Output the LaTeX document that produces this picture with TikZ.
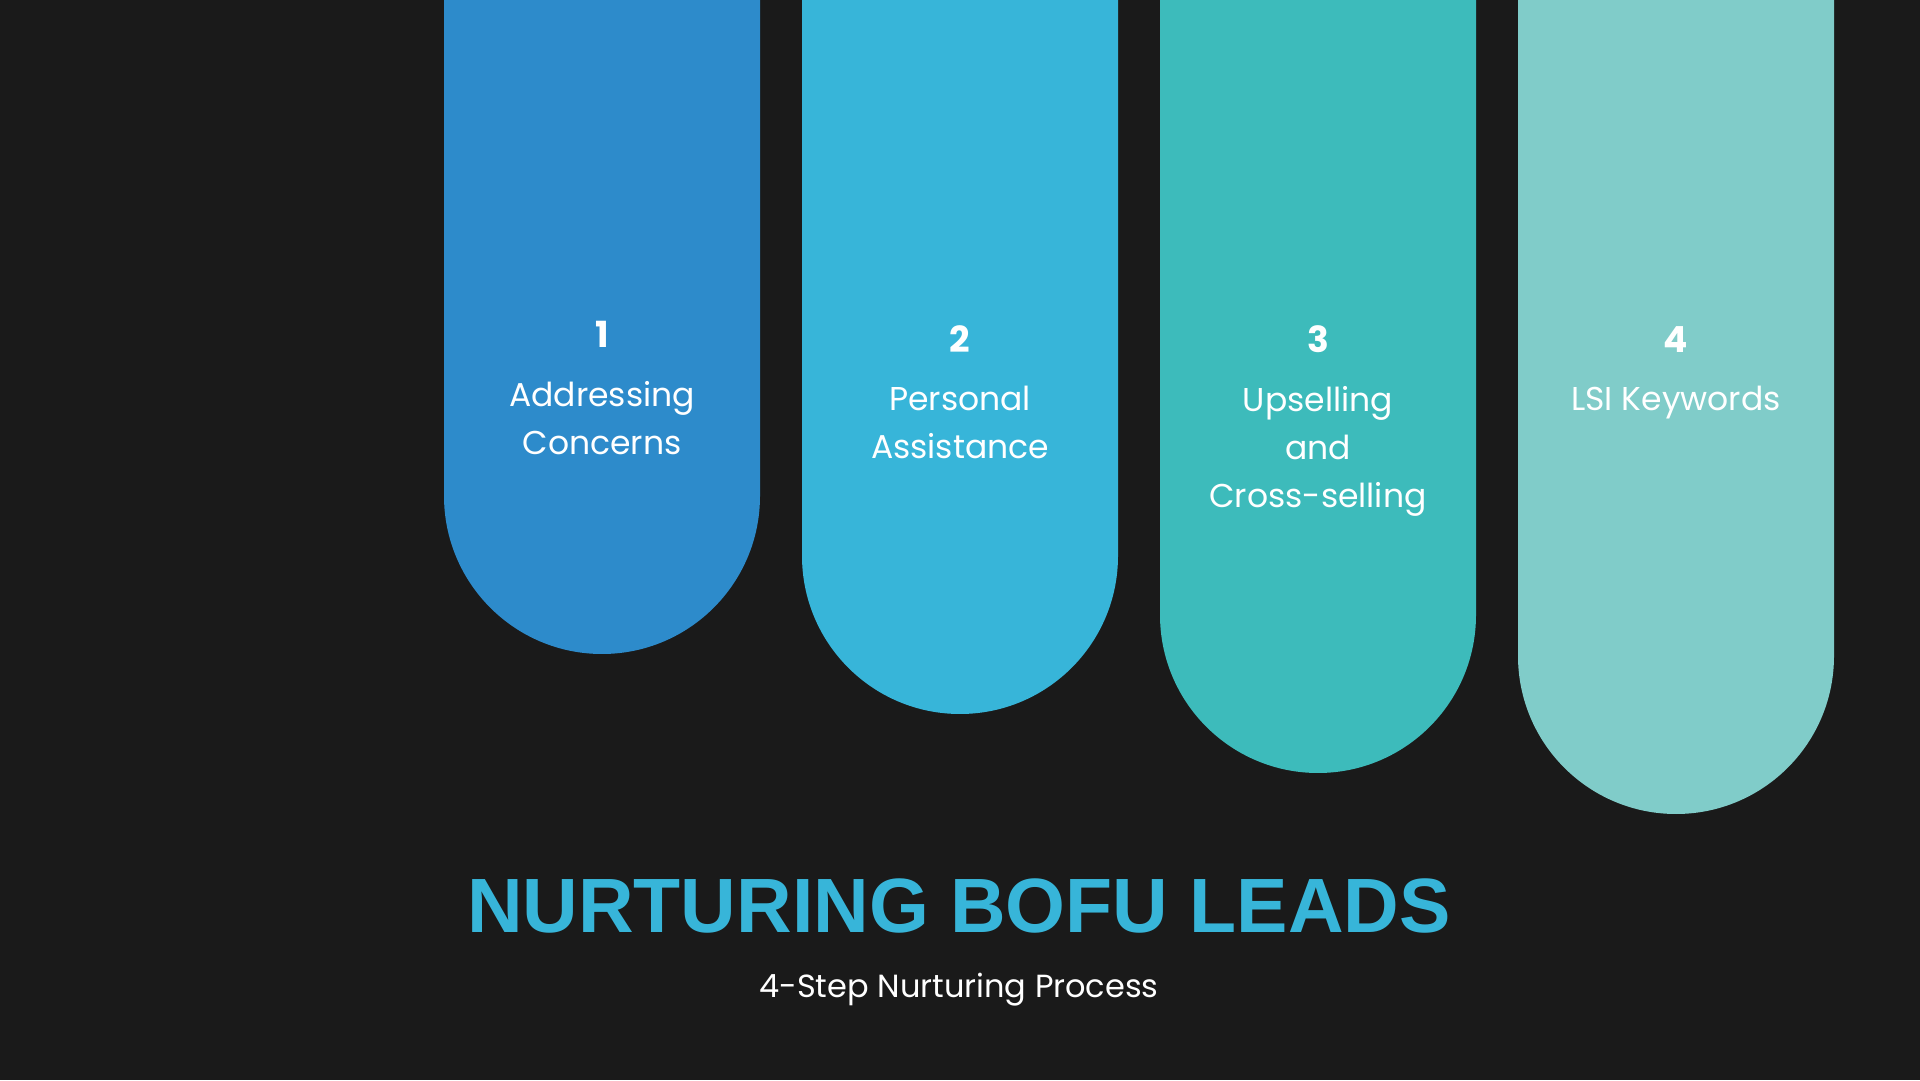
\documentclass[tikz,border=0pt]{standalone}
\usepackage{fontspec}
\setmainfont{Poppins}
\newfontfamily\titlefont{Liberation Sans}
\usetikzlibrary{positioning}
\definecolor{bgdark}{HTML}{1A1A1A}
\definecolor{stepone}{HTML}{2D8BCB}
\definecolor{steptwo}{HTML}{37B5D9}
\definecolor{stepthree}{HTML}{3DBBBB}
\definecolor{stepfour}{HTML}{80CCC9}

\tikzset{
  stepnum/.style={text=white,inner sep=0pt,anchor=base,
                  font=\fontsize{36}{40}\selectfont\bfseries},
  steptext/.style={text=white,inner sep=0pt,anchor=north,align=center,
                   font=\fontsize{33}{48}\selectfont},
}

\begin{document}
\begin{tikzpicture}[x=1pt,y=1pt]
  \fill[bgdark] (0,0) rectangle (1920,1080);
  \useasboundingbox (0,0) rectangle (1920,1080);

  % pill columns: left edge / bottom (from top) / colour / number / text
  \foreach \xl/\yb/\col/\num/\txt/\dy in {
      444/654/stepone/1/{Addressing\\Concerns}/5,
      802/714/steptwo/2/{Personal\\Assistance}/0,
      1160/773/stepthree/3/{Upselling\\and\\Cross-selling}/0,
      1518/814/stepfour/4/{LSI Keywords}/0}{
    \fill[\col] (\xl,1080) -- (\xl,1080-\yb+158)
      arc[start angle=180,end angle=360,radius=158] -- (\xl+316,1080) -- cycle;
    \node[stepnum] (num\num) at (\xl+158,1080-353+\dy) {\num};
    \node[steptext,below=33pt of num\num.base] (lbl\num) {\txt};
  }

  \node[text=steptwo,inner sep=0pt,
        font=\titlefont\fontsize{77}{80}\selectfont\bfseries]
    (title) at (959,174) {NURTURING BOFU LEADS};
  \node[text=white,inner sep=0pt,font=\fontsize{32}{36}\selectfont,
        below=39pt of title] (subtitle) {4-Step Nurturing Process};
\end{tikzpicture}
\end{document}
